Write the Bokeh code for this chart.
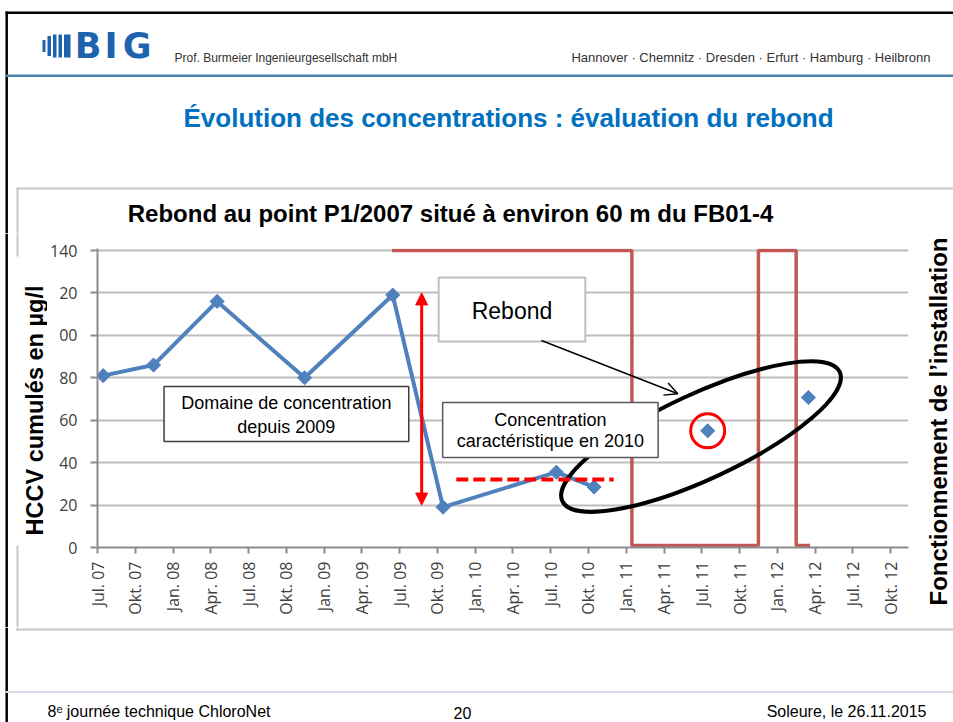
import math
from bokeh.plotting import figure
from bokeh.layouts import column, row
from bokeh.models import Range1d, FixedTicker, Label, BoxAnnotation, Arrow, NormalHead, OpenHead
from bokeh.core.properties import value
from bokeh.embed import file_html
from bokeh.resources import INLINE

# ---------------- data ----------------
quarter_labels = ["Jul. 07", "Okt. 07", "Jan. 08", "Apr. 08", "Jul. 08", "Okt. 08",
                  "Jan. 09", "Apr. 09", "Jul. 09", "Okt. 09", "Jan. 10", "Apr. 10",
                  "Jul. 10", "Okt. 10", "Jan. 11", "Apr. 11", "Jul. 11", "Okt. 11",
                  "Jan. 12", "Apr. 12", "Jul. 12", "Okt. 12"]
# position of each quarter label, in months since 1 Jul 2007
quarter_month = [0, 3, 6, 9, 12, 15, 18, 21, 24, 27, 30, 33,
                 36, 39, 42, 45, 48, 51, 54, 57, 60, 63]

y_ticks = [0, 20, 40, 60, 80, 100, 120, 140]
y_tick_text = ["0", "20", "40", "60", "80", "00", "20", "140"]   # as cropped on the slide

# HCCV cumulés (µg/l) at P1/2007 ; sampling dates in months since 1 Jul 2007
sample_month = [0.45, 4.45, 9.5, 16.45, 23.45, 27.45, 36.45, 39.45, 48.47, 56.47]
hccv = [81, 86, 116, 80, 119, 19, 35.5, 28.5, 55, 70.7]
connected_samples = 8          # the first 8 samples are joined by a line

# Fonctionnement de l'installation (1 = on, 0 = off)
op_month = [23.4, 42.45, 42.45, 52.5, 52.5, 55.5, 55.5, 56.6]
op_state = [1, 1, 0, 0, 1, 1, 0, 0]

# annotations (data units)
range_2009_month = 25.75
range_2009 = [20, 120]
level_2010 = 32
level_2010_months = [28.5, 41.0]
rebond_arrow = [(35.26, 97.6), (46.1, 72.45)]
rebond_ellipse = (47.94, 52.3)
rebond_sample = 8

# ---------------- page geometry (pixels) ----------------
W, H = 953, 722
HEAD_B = 233           # header figure bottom
FOOT_T = 627           # footer figure top
LEFT_W = 47            # left strip width
RIGHT_X = 916          # right strip start
FRAME_L, FRAME_R, FRAME_T, FRAME_B = 95, 908, 248, 547
PX_MONTH = 12.62
PX_UNIT = 297 / 140.0


def dx(px):
    return (px - FRAME_L) / PX_MONTH


def dy(py):
    return (FRAME_B - py) / PX_UNIT


def deco(x0, x1, y0, y1):
    f = figure(width=x1 - x0, height=y1 - y0, output_backend="svg", toolbar_location=None,
               x_range=Range1d(x0, x1), y_range=Range1d(-y1, -y0),
               x_axis_type=None, y_axis_type=None, min_border=0, frame_align=False,
               outline_line_color=None, background_fill_color="white",
               border_fill_color="white")
    return f


def rect(f, x0, x1, y0, y1, color):
    f.quad(left=[x0], right=[x1], top=[-y0], bottom=[-y1], fill_color=color, line_color=None)


def hl(f, x0, x1, y, lw, color):
    f.line([x0, x1], [-y, -y], line_color=color, line_width=lw)


def vl(f, x, y0, y1, lw, color):
    f.line([x, x], [-y0, -y1], line_color=color, line_width=lw)


def txt(f, px, py, s, size, bold=False, color="black", align="center", angle=0.0,
        font="Liberation Sans"):
    f.text(x=[px], y=[-py], text=[s], text_font=value(font), text_font_size=size,
           text_font_style="bold" if bold else "normal", text_color=color,
           text_align=align, text_baseline="middle", angle=angle)


# ---------------- chart ----------------
chart_w = RIGHT_X - LEFT_W
chart_h = FOOT_T - HEAD_B
y_top = 140 + (FRAME_B - FRAME_T - 297) / PX_UNIT
p = figure(width=chart_w, height=chart_h, output_backend="svg", toolbar_location=None,
           x_range=Range1d(0, (FRAME_R - FRAME_L) / PX_MONTH), y_range=Range1d(0, y_top),
           min_border_left=FRAME_L - LEFT_W, min_border_right=RIGHT_X - FRAME_R,
           min_border_top=FRAME_T - HEAD_B, min_border_bottom=FOOT_T - FRAME_B,
           frame_align=False,
           background_fill_color="white", border_fill_color="white",
           outline_line_color=None)
p.extra_y_ranges = {"op": Range1d(-2.0 / 295, 1 + 2.0 / 295)}

for ax in (p.xaxis, p.yaxis):
    ax.axis_line_color = "#8C8C8C"
    ax.axis_line_width = 2
    ax.major_tick_line_color = "#8C8C8C"
    ax.major_tick_line_width = 2
    ax.minor_tick_line_color = None
    ax.major_tick_in = 0
    ax.major_label_text_font = "Open Sans"
    ax.major_label_text_color = "#404040"

p.yaxis.ticker = FixedTicker(ticks=y_ticks)
p.yaxis.major_label_overrides = dict(zip(y_ticks, y_tick_text))
p.yaxis.major_tick_out = 7
p.yaxis.major_label_standoff = 13
p.yaxis.major_label_text_font_size = "16px"

p.xaxis.ticker = FixedTicker(ticks=quarter_month)
p.xaxis.major_label_overrides = dict(zip(quarter_month, quarter_labels))
p.xaxis.major_label_orientation = math.pi / 2
p.xaxis.major_tick_out = 6
p.xaxis.major_label_standoff = 8
p.xaxis.major_label_text_font_size = "16px"

p.xgrid.visible = False
p.ygrid.ticker = FixedTicker(ticks=y_ticks)
p.ygrid.grid_line_color = "#BDBDBD"
p.ygrid.grid_line_width = 2

p.line(op_month, op_state, y_range_name="op", line_color="#C0504D", line_width=3.5, line_alpha=0.95)
p.line(sample_month[:connected_samples], hccv[:connected_samples],
       line_color="#4F81BD", line_width=4)
p.scatter(sample_month, hccv, marker="square", angle=math.pi / 4, size=10,
          fill_color="#4F81BD", line_color="#4F81BD")
p.ellipse(x=[rebond_ellipse[0]], y=[rebond_ellipse[1]], width=306, height=85,
          width_units="screen", height_units="screen", angle=0.436,
          fill_color=None, line_color="black", line_width=4)
p.scatter([sample_month[rebond_sample]], [hccv[rebond_sample]], marker="circle", size=34,
          fill_color=None, line_color="#FF0000", line_width=3)
p.line(level_2010_months, [level_2010, level_2010], line_color="#FF0000",
       line_width=4, line_dash="12 5")


def cbox(x0, x1, y0, y1, line, lw):
    p.add_layout(BoxAnnotation(left=dx(x0), right=dx(x1), top=dy(y0), bottom=dy(y1),
                               fill_color="white", fill_alpha=1,
                               line_color=line, line_width=lw, line_alpha=1))


def clabel(px, py, s, size):
    p.add_layout(Label(x=dx(px), y=dy(py), text=s, text_font="Liberation Sans",
                       text_font_size=size, text_color="black",
                       text_align="center", text_baseline="middle"))


cbox(161.7, 407, 386, 441, "#3C3C3C", 1.5)
clabel(284.3, 402.7, "Domaine de concentration", "18px")
clabel(284.3, 426, "depuis 2009", "18px")
cbox(437, 584, 277, 341, "#BFBFBF", 2)
clabel(510.5, 310, "Rebond", "23px")
cbox(441, 657, 402, 457, "#595959", 1.5)
clabel(549, 419.3, "Concentration", "18px")
clabel(549, 440.3, "caractéristique en 2010", "18px")

p.add_layout(Arrow(start=NormalHead(size=12, fill_color="#FF0000", line_color="#FF0000"),
                   end=NormalHead(size=12, fill_color="#FF0000", line_color="#FF0000"),
                   x_start=range_2009_month, y_start=range_2009[0],
                   x_end=range_2009_month, y_end=range_2009[1],
                   line_color="#FF0000", line_width=3))
p.add_layout(Arrow(end=OpenHead(size=13, line_width=1.5, line_color="black"),
                   x_start=rebond_arrow[0][0], y_start=rebond_arrow[0][1],
                   x_end=rebond_arrow[1][0], y_end=rebond_arrow[1][1],
                   line_color="black", line_width=1.5))

# ---------------- header ----------------
hd = deco(0, W, 0, HEAD_B)
hl(hd, 5, W, 12.2, 2.5, "black")
vl(hd, 6.2, 11, HEAD_B, 2.5, "black")
rect(hd, 5, W, 74, 76.5, "#4C86B0")
rect(hd, 16, W, 187, 189, "#C8C8C8")
rect(hd, 16, 18, 187, HEAD_B, "#C8C8C8")
logo_blue = "#1E63AD"
rect(hd, 42, 45, 39.5, 51.5, logo_blue)
rect(hd, 47, 50.5, 35.5, 55.5, logo_blue)
rect(hd, 52.5, 56, 34, 57, logo_blue)
rect(hd, 58, 61.5, 34, 57, logo_blue)
rect(hd, 63.5, 70, 34, 57, logo_blue)
txt(hd, 87.5, 45.5, "B", "35px", bold=True, color=logo_blue, font="DejaVu Sans")
txt(hd, 110.5, 45.5, "I", "35px", bold=True, color=logo_blue, font="DejaVu Sans")
txt(hd, 136.5, 45.5, "G", "35px", bold=True, color=logo_blue, font="DejaVu Sans")
txt(hd, 174, 57, "Prof. Burmeier Ingenieurgesellschaft mbH", "12px", color="#333333", align="left")
txt(hd, 930, 57, "Hannover · Chemnitz · Dresden · Erfurt · Hamburg · Heilbronn", "13px",
    color="#333333", align="right")
txt(hd, 508, 117.5, "Évolution des concentrations : évaluation du rebond", "26px",
    bold=True, color="#0070C0")
txt(hd, 450, 213, "Rebond au point P1/2007 situé à environ 60 m du FB01-4", "24px", bold=True)

# ---------------- left / right strips ----------------
lf = deco(0, LEFT_W, HEAD_B, FOOT_T)
vl(lf, 6.2, HEAD_B, FOOT_T, 2.5, "black")
rect(lf, 16, 18, HEAD_B, 256, "#C8C8C8")
rect(lf, 16, 18, 545, FOOT_T, "#C8C8C8")
txt(lf, 34.5, 410, "HCCV cumulés en µg/l", "23.5px", bold=True, angle=math.pi / 2)

rt = deco(RIGHT_X, W, HEAD_B, FOOT_T)
txt(rt, 938, 421, "Fonctionnement de l’installation", "24px", bold=True, angle=math.pi / 2)

# ---------------- footer ----------------
ft = deco(0, W, FOOT_T, H)
vl(ft, 6.2, FOOT_T, H, 2.5, "black")
rect(ft, 16, 18, FOOT_T, 630, "#C8C8C8")
rect(ft, 16, W, 628, 630, "#C8C8C8")
rect(ft, 5, W, 690.5, 692.5, "#D5DEE6")
txt(ft, 47, 711, "8ᵉ journée technique ChloroNet", "16px", align="left")
txt(ft, 462, 712, "20", "16px")
txt(ft, 926, 711, "Soleure, le 26.11.2015", "16px", align="right")

page = column(hd, row(lf, p, rt), ft)
open("out.html", "w").write(file_html(page, INLINE))
